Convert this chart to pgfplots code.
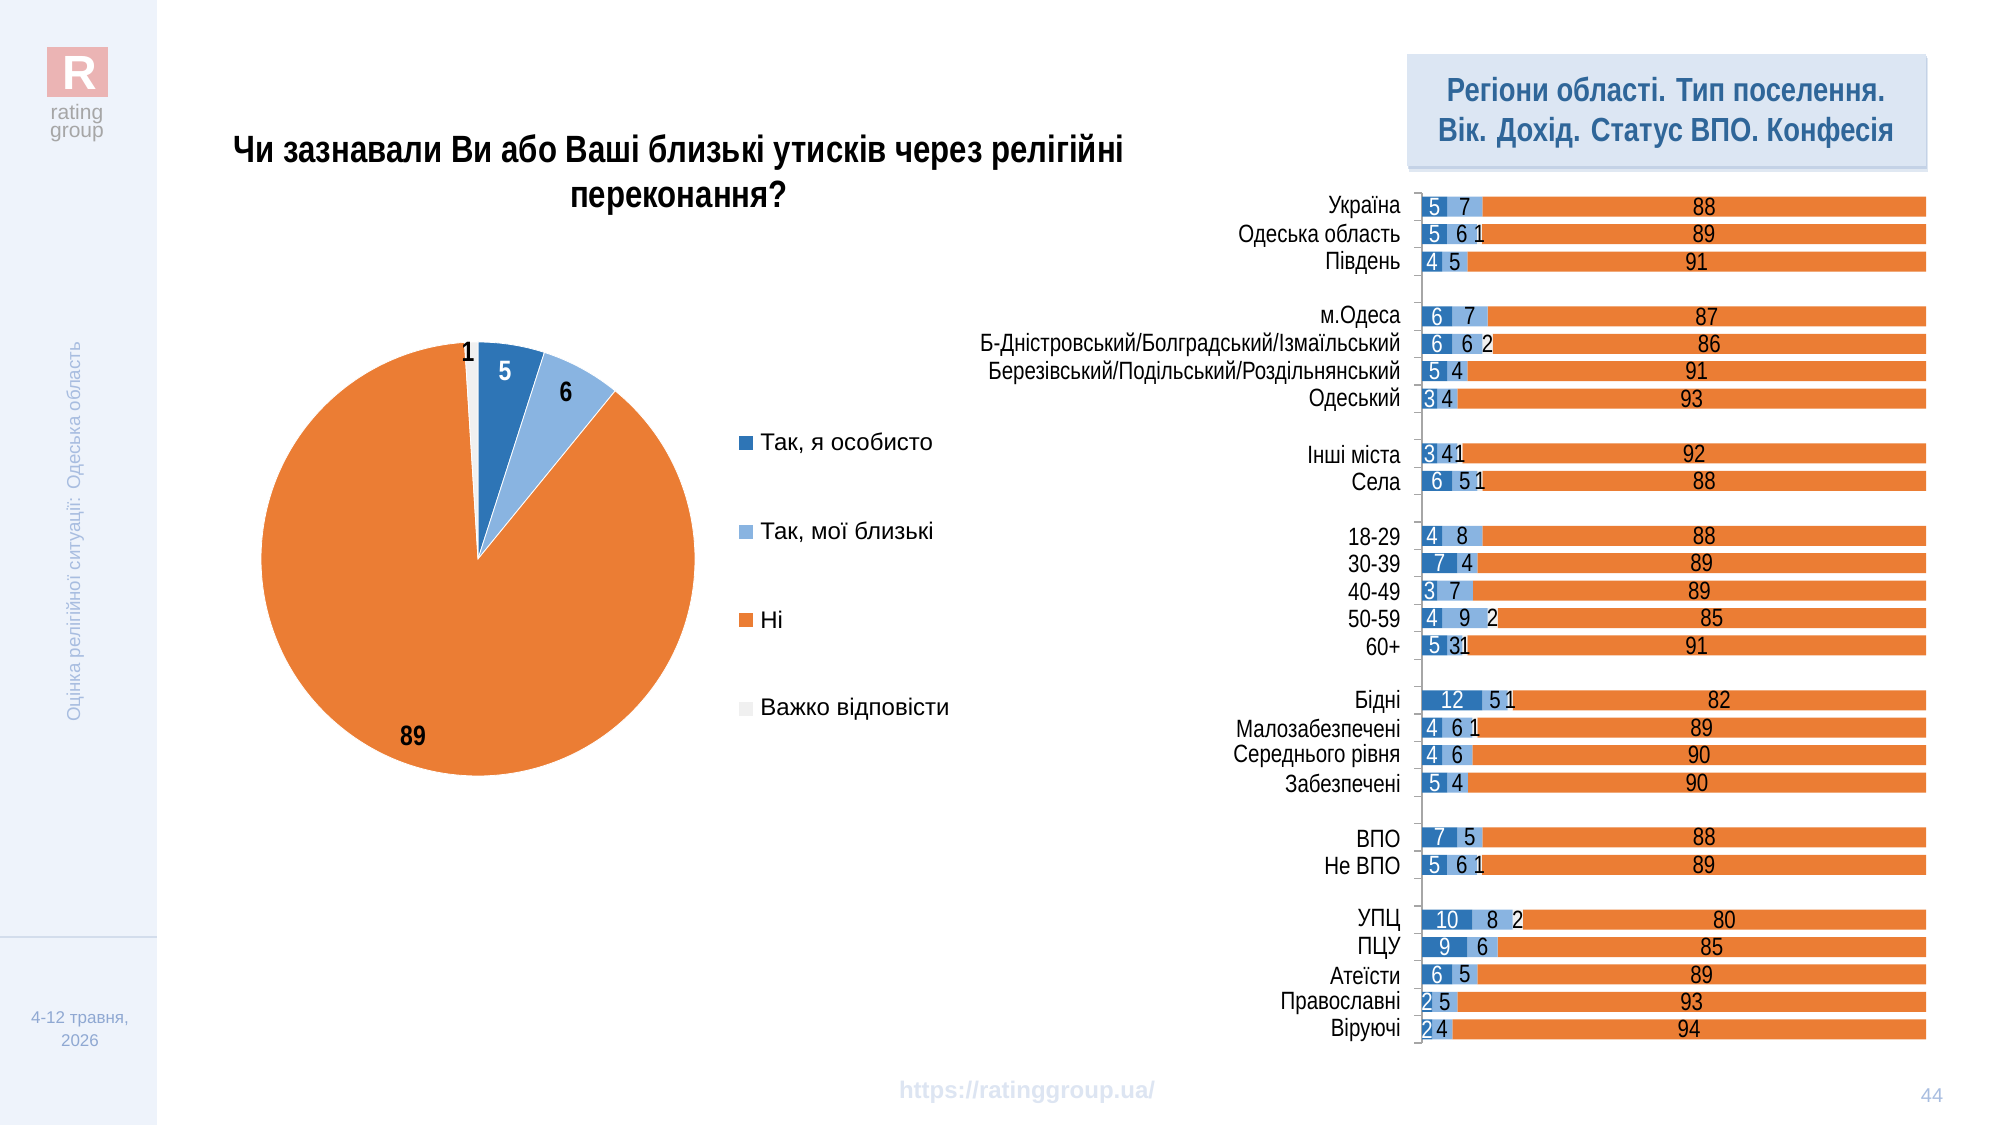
\documentclass[border=0pt]{standalone}
\usepackage{fontspec}
\setmainfont{Liberation Sans}[FakeStretch=0.82]
\newfontfamily\arialfont{Liberation Sans}
\usepackage{pgfplots}
\pgfplotsset{compat=1.18}
\usepackage{pgfplotstable}

\definecolor{cDark}{HTML}{2E75B6}
\definecolor{cLight}{HTML}{89B4E1}
\definecolor{cOrange}{HTML}{EB7D34}
\definecolor{cGray}{HTML}{F0F0F0}
\definecolor{sidebg}{HTML}{EEF3FB}
\definecolor{boxfill}{HTML}{DCE6F3}
\definecolor{boxshadow}{HTML}{A9BEDC}
\definecolor{boxtext}{HTML}{2F6699}
\definecolor{sidetext}{HTML}{A8BDE0}
\definecolor{datetext}{HTML}{8FA8D2}
\definecolor{urltext}{HTML}{DDE5F2}
\definecolor{logopink}{HTML}{EBB4B4}
\definecolor{sepline}{HTML}{D3DDEC}
\definecolor{axisgray}{HTML}{A6A6A6}

% y = row position, a = Так, я особисто; b = Так, мої близькі; c = Важко відповісти; d = Ні
\pgfplotstableread{
y a b c d
0 5 7 0 88
1 5 6 1 89
2 4 5 0 91
4 6 7 0 87
5 6 6 2 86
6 5 4 0 91
7 3 4 0 93
9 3 4 1 92
10 6 5 1 88
12 4 8 0 88
13 7 4 0 89
14 3 7 0 89
15 4 9 2 85
16 5 3 1 91
18 12 5 1 82
19 4 6 1 89
20 4 6 0 90
21 5 4 0 90
23 7 5 0 88
24 5 6 1 89
26 10 8 2 80
27 9 6 0 85
28 6 5 0 89
29 2 5 0 93
30 2 4 0 94
}\bars

% 100% stacked: each segment as share of its row total
\newcommand\tot{(\thisrow{a}+\thisrow{b}+\thisrow{c}+\thisrow{d})}

\begin{document}
\begin{tikzpicture}[x=0.5pt,y=0.5pt]
\useasboundingbox (0,0) rectangle (2000,1125);
\fill[white] (0,0) rectangle (2000,1125);
% sidebar
\fill[sidebg] (0,0) rectangle (157,1125);
\draw[sepline, line width=0.6pt] (0,188) -- (157,188);
\fill[logopink] (47,1078) rectangle (108,1028);
\node[font=\arialfont\bfseries\fontsize{24}{24}\selectfont, text=white] at (80,1052) {R};
\node[anchor=base, font=\arialfont\fontsize{10.5}{10}\selectfont, text=gray!70] at (77,1005) {rating};
\node[anchor=base, font=\arialfont\fontsize{10.5}{10}\selectfont, text=gray!70] at (77,987) {group};
\node[rotate=90, font=\arialfont\fontsize{9.35}{10}\selectfont, text=sidetext] at (75,593) {Оцінка релігійної ситуації: Одеська область};
\node[align=center, font=\arialfont\fontsize{8.5}{11.5}\selectfont, text=datetext] at (80,96) {4-12 травня,\\2026};

% title
\node[font=\bfseries\fontsize{19}{22.5}\selectfont, align=center] at (679,950) {Чи зазнавали Ви або Ваші близькі утисків через релігійні\\переконання?};

% pie (values 5, 6, 89, 1 of total 101; angles clockwise from 12 o'clock)
\begin{axis}[at={(124pt,168pt)}, anchor=south west, x=0.5pt, y=0.5pt,
  xmin=-230, xmax=230, ymin=-230, ymax=230, hide axis, clip=false]
\fill[cDark, draw=white, line width=0.4pt] (axis cs:0,0) -- (axis cs:{217*cos(90)},{217*sin(90)}) arc[start angle=90, end angle=72.178, radius=108.5pt] -- cycle;
\fill[cLight, draw=white, line width=0.4pt] (axis cs:0,0) -- (axis cs:{217*cos(72.178)},{217*sin(72.178)}) arc[start angle=72.178, end angle=50.792, radius=108.5pt] -- cycle;
\fill[cOrange, draw=white, line width=0.4pt] (axis cs:0,0) -- (axis cs:{217*cos(50.792)},{217*sin(50.792)}) arc[start angle=50.792, end angle=-266.436, radius=108.5pt] -- cycle;
\fill[cGray, draw=white, line width=0.4pt] (axis cs:0,0) -- (axis cs:{217*cos(-266.436)},{217*sin(-266.436)}) arc[start angle=-266.436, end angle=-270, radius=108.5pt] -- cycle;
\node[font=\bfseries\fontsize{14}{14}\selectfont, text=white] at (axis cs:27,188) {5};
\node[font=\bfseries\fontsize{14}{14}\selectfont] at (axis cs:88,167) {6};
\node[font=\bfseries\fontsize{14}{14}\selectfont] at (axis cs:-65,-177) {89};
\node[font=\bfseries\fontsize{14}{14}\selectfont] at (axis cs:-10,207) {1};
\end{axis}

% legend
\fill[cDark] (739,689) rectangle (753,675);
\node[anchor=west, inner sep=0pt, font=\arialfont\fontsize{12}{12}\selectfont] at (760,682) {Так, я особисто};
\fill[cLight] (739,600) rectangle (753,586);
\node[anchor=west, inner sep=0pt, font=\arialfont\fontsize{12}{12}\selectfont] at (760,593) {Так, мої близькі};
\fill[cOrange] (739,512) rectangle (753,498);
\node[anchor=west, inner sep=0pt, font=\arialfont\fontsize{12}{12}\selectfont] at (760,505) {Ні};
\fill[cGray] (739,423) rectangle (753,409);
\node[anchor=west, inner sep=0pt, font=\arialfont\fontsize{12}{12}\selectfont] at (760,416) {Важко відповісти};

% header box
\fill[boxshadow, opacity=0.35] (1409,1067) rectangle (1928,953);
\fill[boxshadow, opacity=0.5] (1408,1069) rectangle (1927,956);
\fill[boxfill] (1407,1071) rectangle (1926,959);
\node[font=\bfseries\fontsize{16.7}{20}\selectfont, text=boxtext, align=center] at (1666,1012) {Регіони області. Тип поселення.\\Вік. Дохід. Статус ВПО. Конфесія};

% bars
\begin{axis}[at={(711pt,41pt)}, anchor=south west, scale only axis,
  width=252pt, height=425pt,
  xmin=0, xmax=100, ymin=-0.5, ymax=30.5, y dir=reverse,
  xbar stacked, bar width=10pt,
  axis x line=none, axis y line=left,
  axis line style={draw=axisgray, line width=0.6pt, -},
  ytick={0,1,2,4,5,6,7,9,10,12,13,14,15,16,18,19,20,21,23,24,26,27,28,29,30},
  yticklabels={Україна,Одеська область,Південь,м.Одеса,Б-Дністровський/Болградський/Ізмаїльський,Березівський/Подільський/Роздільнянський,Одеський,Інші міста,Села,18-29,30-39,40-49,50-59,60+,Бідні,Малозабезпечені,Середнього рівня,Забезпечені,ВПО,Не ВПО,УПЦ,ПЦУ,Атеїсти,Православні,Віруючі},
  major tick length=0pt,
  extra y ticks={-0.5,0.5,...,30.5}, extra y tick labels={},
  extra y tick style={major tick length=4pt, tick align=outside, tick style={draw=axisgray, line width=0.6pt}},
  yticklabel style={font=\fontsize{12.5}{13}\selectfont, inner sep=0pt, anchor=east, xshift=-10.5pt, yshift=-0.6pt},
  clip=true,
]
\addplot[fill=cDark, draw=none] table[x expr=\thisrow{a}*100/\tot, y=y] {\bars};
\addplot[fill=cLight, draw=none] table[x expr=\thisrow{b}*100/\tot, y=y] {\bars};
\addplot[fill=cGray, draw=none] table[x expr=\thisrow{c}*100/\tot, y=y] {\bars};
\addplot[fill=cOrange, draw=none] table[x expr=\thisrow{d}*100/\tot, y=y] {\bars};
\end{axis}

% bar value labels
\begin{axis}[at={(711pt,41pt)}, anchor=south west, scale only axis,
  width=252pt, height=425pt,
  xmin=0, xmax=100, ymin=-0.5, ymax=30.5, y dir=reverse,
  hide axis, clip=false,
  /pgf/number format/assume math mode=true,
  nodes near coords, nodes near coords align={center},
  every node near coord/.append style={font=\fontsize{12.5}{12.5}\selectfont, inner sep=0pt, anchor=center},
]
\addplot[only marks, mark=none, point meta=\thisrow{a}, every node near coord/.append style={text=white}] table[x expr=(\thisrow{a}/2)*100/\tot, y=y] {\bars};
\addplot[only marks, mark=none, point meta=\thisrow{b}] table[x expr=(\thisrow{a}+\thisrow{b}/2)*100/\tot, y=y] {\bars};
\addplot[only marks, mark=none, point meta=\thisrow{c}, restrict expr to domain={\thisrow{c}}{0.5:100}] table[x expr=(\thisrow{a}+\thisrow{b}+\thisrow{c}/2)*100/\tot, y=y] {\bars};
\addplot[only marks, mark=none, point meta=\thisrow{d}] table[x expr=(\thisrow{a}+\thisrow{b}+\thisrow{c}+\thisrow{d}/2)*100/\tot, y=y] {\bars};
\end{axis}

% footer
\node[font=\arialfont\bfseries\fontsize{12}{12}\selectfont, text=urltext] at (1027,33) {https://ratinggroup.ua/};
\node[font=\arialfont\fontsize{10}{10}\selectfont, text=sidetext] at (1932,29) {44};
\end{tikzpicture}
\end{document}
